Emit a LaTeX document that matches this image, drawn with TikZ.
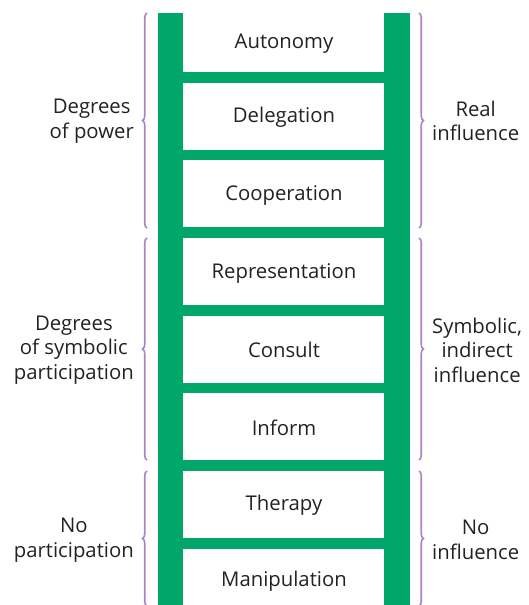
\documentclass[tikz,border=0pt]{standalone}
\usepackage{fontspec}
\setmainfont{Open Sans}
\usetikzlibrary{decorations.pathreplacing}
\definecolor{laddergreen}{RGB}{0,166,106}
\definecolor{bracepurple}{RGB}{172,132,198}
\definecolor{txt}{RGB}{34,34,34}
\begin{document}
\begin{tikzpicture}[x=1pt,y=-1pt,
  rail/.style={fill=laddergreen,draw=none},
  rung/.style={fill=laddergreen,draw=none},
  steplabel/.style={font=\fontsize{20.3}{24.5}\selectfont,text=txt,align=center,inner sep=0pt},
  leftlabel/.style={font=\fontsize{20.3}{24.5}\selectfont,text=txt,align=center,inner sep=0pt,anchor=east},
  rightlabel/.style={font=\fontsize{20.3}{24.5}\selectfont,text=txt,align=center,inner sep=0pt,anchor=west},
  bracel/.style={draw=bracepurple,line width=1.6pt,decorate,decoration={brace,amplitude=4.5pt}},
]
\useasboundingbox (0,0) rectangle (529,605);
\clip (0,0) rectangle (529,605);
% rails
\path[rail] (158,13) rectangle (183,610);
\path[rail] (384,13) rectangle (410,610);
% rungs
\foreach \t in {72,149.7,227.3,305,382.7,460.3,538}{
  \path[rung] (183,\t) rectangle (384,\t+10.5);
}
% step labels
\node[steplabel] (autonomy) at (284,44) {Autonomy};
\node[steplabel] (delegation) at (284,117) {Delegation};
\node[steplabel] (cooperation) at (284,195) {Cooperation};
\node[steplabel] (representation) at (284,273) {Representation};
\node[steplabel] (consult) at (284,350) {Consult};
\node[steplabel] (inform) at (284,428) {Inform};
\node[steplabel] (therapy) at (284,505) {Therapy};
\node[steplabel] (manipulation) at (284,581) {Manipulation};
% braces left
\coordinate (l1b) at (147,228); \coordinate (l1t) at (147,13);
\coordinate (l2b) at (147,460); \coordinate (l2t) at (147,238);
\coordinate (l3b) at (147,606); \coordinate (l3t) at (147,471);
\draw[bracel] (l1b) -- (l1t);
\draw[bracel] (l2b) -- (l2t);
\draw[bracel] (l3b) -- (l3t);
% braces right
\coordinate (r1t) at (419,13); \coordinate (r1b) at (419,228);
\coordinate (r2t) at (419,238); \coordinate (r2b) at (419,460);
\coordinate (r3t) at (419,471); \coordinate (r3b) at (419,606);
\draw[bracel] (r1t) -- (r1b);
\draw[bracel] (r2t) -- (r2b);
\draw[bracel] (r3t) -- (r3b);
% side labels
\node[leftlabel] (power) at (134,121) {Degrees\\of power};
\node[leftlabel] (symb) at (134,350) {Degrees\\of symbolic\\participation};
\node[leftlabel] (nopart) at (134,540) {No\\participation};
\node[rightlabel] (real) at (432,121) {Real\\influence};
\node[rightlabel] (indirect) at (432,350) {Symbolic,\\indirect\\influence};
\node[rightlabel] (noinf) at (432,540) {No\\influence};
\end{tikzpicture}
\end{document}
